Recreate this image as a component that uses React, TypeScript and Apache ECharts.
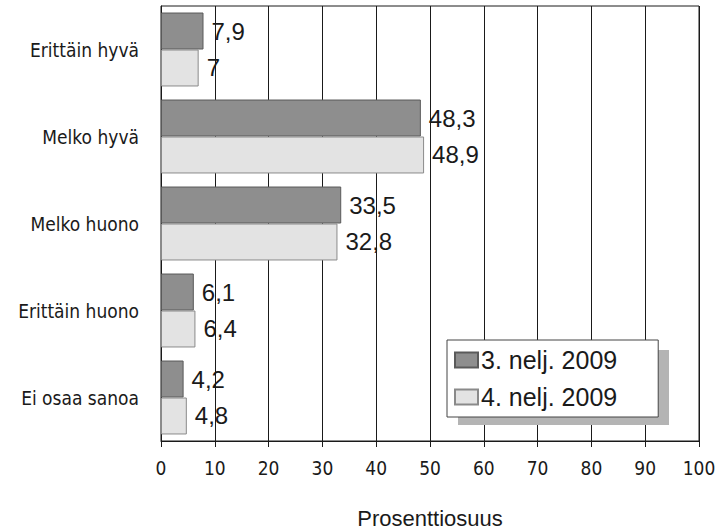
import React, { useEffect, useRef } from "react";
import * as echarts from "echarts";

const categories = ["Erittäin hyvä", "Melko hyvä", "Melko huono", "Erittäin huono", "Ei osaa sanoa"];
const seriesNames = ["3. nelj. 2009", "4. nelj. 2009"];
const q3Values = [7.9, 48.3, 33.5, 6.1, 4.2];
const q4Values = [7, 48.9, 32.8, 6.4, 4.8];
const axisTitle = "Prosenttiosuus";

export default function App() {
  const ref = useRef<HTMLDivElement>(null);
  useEffect(() => {
    document.body.style.margin = "0";
    const chart = echarts.init(ref.current!, null, { renderer: "svg" });
    const labelStyle = {
      show: true,
      position: "right" as const,
      distance: 8,
      fontSize: 24,
      fontFamily: "'Liberation Sans', Arial, sans-serif",
      color: "#1a1a1a",
      formatter: (p: any) => String(p.value).replace(".", ","),
    };
    chart.setOption({
      animation: false,
      backgroundColor: "#ffffff",
      grid: {
        left: 161,
        right: 16,
        top: 6,
        bottom: 90,
        show: true,
        borderColor: "#1a1a1a",
        borderWidth: 1,
        containLabel: false,
        outerBoundsMode: "none",
      },
      xAxis: {
        type: "value",
        min: 0,
        max: 100,
        interval: 10,
        axisLine: { show: true, lineStyle: { color: "#1a1a1a", width: 1 } },
        axisTick: { show: true, length: 6, lineStyle: { color: "#1a1a1a" } },
        splitLine: { show: true, lineStyle: { color: "#1a1a1a", width: 1 } },
        axisLabel: {
          margin: 17,
          fontSize: 19,
          fontFamily: "'Liberation Sans Narrow', 'DejaVu Sans Condensed', sans-serif",
          color: "#1a1a1a",
        },
        name: axisTitle,
        nameLocation: "middle",
        nameGap: 66,
        nameTextStyle: {
          fontSize: 22,
          fontFamily: "'Liberation Sans', Arial, sans-serif",
          color: "#1a1a1a",
        },
      },
      yAxis: {
        type: "category",
        data: categories,
        inverse: true,
        axisLine: { show: true, lineStyle: { color: "#1a1a1a", width: 1 } },
        axisTick: { show: false },
        splitLine: { show: false },
        axisLabel: {
          margin: 22,
          fontSize: 19,
          fontFamily: "'DejaVu Sans Condensed', 'DejaVu Sans', sans-serif",
          color: "#1a1a1a",
        },
      },
      legend: {
        data: seriesNames,
        orient: "vertical",
        left: 447,
        top: 340,
        z: 10,
        padding: [7, 41, 7, 7],
        itemGap: 11,
        itemWidth: 23,
        itemHeight: 15,
        icon: "rect",
        backgroundColor: "#ffffff",
        borderColor: "#444444",
        borderWidth: 1,
        borderRadius: 0,
        textStyle: {
          fontSize: 25,
          lineHeight: 26,
          fontFamily: "'Liberation Sans', Arial, sans-serif",
          color: "#1a1a1a",
          padding: [0, 0, 0, -2],
        },
      },
      graphic: [
        {
          type: "rect",
          z: 1,
          shape: { x: 458, y: 350, width: 211, height: 75 },
          style: { fill: "#b4b4b4" },
        },
      ],
      series: [
        {
          name: seriesNames[0],
          type: "bar",
          data: q3Values,
          barGap: "0%",
          barCategoryGap: "15%",
          itemStyle: { color: "#8e8e8e", borderColor: "#5a5a5a", borderWidth: 1 },
          label: labelStyle,
        },
        {
          name: seriesNames[1],
          type: "bar",
          data: q4Values,
          barGap: "0%",
          barCategoryGap: "15%",
          itemStyle: { color: "#e3e3e3", borderColor: "#8a8a8a", borderWidth: 1 },
          label: labelStyle,
        },
      ],
    });
    return () => chart.dispose();
  }, []);
  return <div ref={ref} style={{ width: 715, height: 531 }} />;
}
